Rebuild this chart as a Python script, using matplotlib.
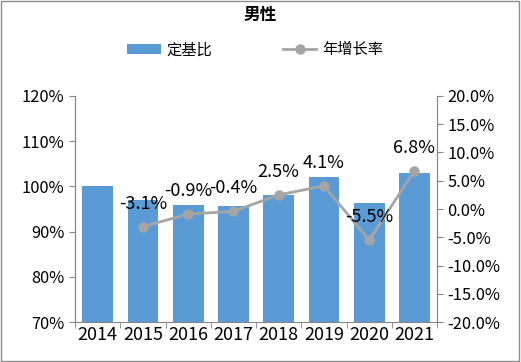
import matplotlib.pyplot as plt
import numpy as np
from matplotlib.ticker import FuncFormatter

plt.rcParams['font.family'] = ['Noto Sans CJK SC', 'DejaVu Sans']

years = ['2014', '2015', '2016', '2017', '2018', '2019', '2020', '2021']
base_ratio = [100.0, 96.9, 96.0, 95.6, 98.0, 102.0, 96.4, 102.9]
growth = [None, -3.1, -0.9, -0.4, 2.5, 4.1, -5.5, 6.8]

bar_col = '#5B9BD5'
line_col = '#A5A5A5'
axis_col = '#868686'

fig = plt.figure(figsize=(5.21, 3.62), dpi=100)
ax = fig.add_axes([0.144, 0.11, 0.695, 0.625])
ax2 = ax.twinx()

x = np.arange(len(years))
ax.bar(x, base_ratio, width=0.68, color=bar_col, label='定基比', zorder=2)
ax.set_ylim(70, 120)
ax.set_xlim(-0.5, len(years) - 0.5)
ax.set_yticks(np.arange(70, 121, 10))
ax.yaxis.set_major_formatter(FuncFormatter(lambda v, p: '%d%%' % v))
ax.set_xticks(x)
ax.set_xticklabels(years)
ax.set_xticks(np.arange(-0.5, len(years), 1), minor=True)
ax.tick_params(axis='x', which='major', length=0, labelsize=13, pad=3)
ax.tick_params(axis='x', which='minor', length=4, color=axis_col)
ax.tick_params(axis='y', length=4, color=axis_col, labelsize=11.8)

gx = [i for i, g in zip(x, growth) if g is not None]
gy = [g for g in growth if g is not None]
ax2.plot(gx, gy, color=line_col, lw=2, marker='o', ms=6.5, label='年增长率', zorder=3)
for xi, yi in zip(gx, gy):
    ax2.annotate('%.1f%%' % yi, (xi, yi), xytext=(0, 10), textcoords='offset points',
                 ha='center', va='bottom', fontsize=13)
ax2.set_ylim(-20, 20)
ax2.set_yticks(np.arange(-20, 21, 5))
ax2.yaxis.set_major_formatter(FuncFormatter(lambda v, p: '%.1f%%' % v))
ax2.tick_params(axis='y', length=4, color=axis_col, labelsize=11.8)

for a in (ax, ax2):
    a.spines['top'].set_visible(False)
    for s in ['left', 'right', 'bottom']:
        a.spines[s].set_color(axis_col)
ax2.spines['bottom'].set_visible(False)

fig.text(0.5, 0.96, '男性', ha='center', va='center', fontsize=12, fontweight='bold')
h1, l1 = ax.get_legend_handles_labels()
h2, l2 = ax2.get_legend_handles_labels()
fig.legend(h1 + h2, l1 + l2, loc='center', bbox_to_anchor=(0.49, 0.862), ncol=2,
           frameon=False, fontsize=11, columnspacing=4.6, handlelength=2.2,
           handletextpad=0.4)

fig.patches.append(plt.Rectangle((0.002, 0.003), 0.995, 0.994, transform=fig.transFigure,
                                 fill=False, edgecolor='#8C8C8C', lw=1))

fig.savefig('out.png', dpi=100)
